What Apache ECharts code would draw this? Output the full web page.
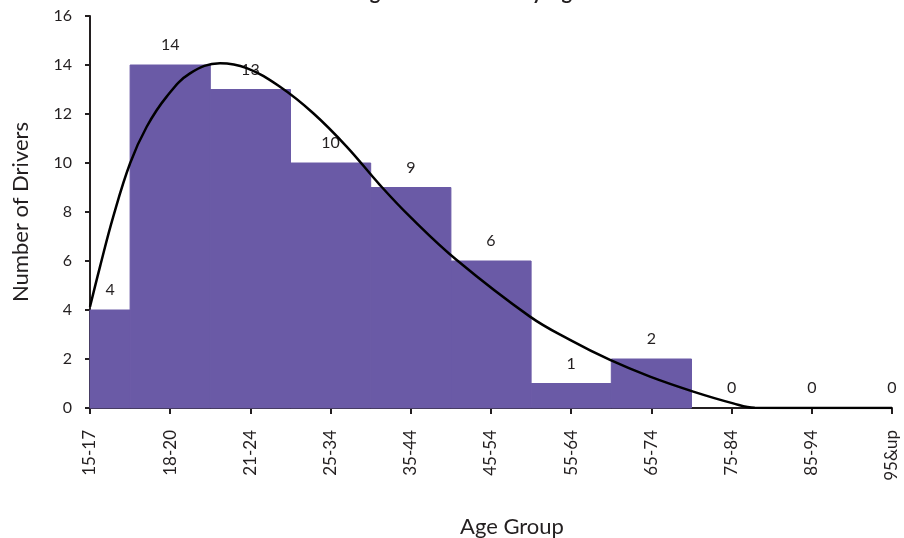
<!DOCTYPE html>
<html>
<head>
<meta charset="utf-8">
<script src="https://cdn.jsdelivr.net/npm/echarts@6/dist/echarts.min.js"></script>
<style>html,body{margin:0;padding:0;background:#fff}#c{width:904px;height:538px}</style>
</head>
<body>
<div id="c"></div>
<script>
const categories = ['15-17','18-20','21-24','25-34','35-44','45-54','55-64','65-74','75-84','85-94','95&up'];
const drivers = [4,14,13,10,9,6,1,2,0,0,0];
const curveX = [0,0.125,0.29,0.5,0.707,0.956,1.247,1.621,1.954,2.369,2.784,3.2,3.616,3.99,4.572,5.486,5.985,6.484,6.983,7.522,8.02,8.29,9,10];
const curveY = [4.13,5.77,7.81,9.99,11.48,12.71,13.66,14.07,13.87,13.11,12.03,10.67,9.10,7.81,6.04,3.73,2.78,1.96,1.28,0.67,0.19,0.01,0,0];
const yTicks = [0,2,4,6,8,10,12,14,16];

const FONT = 'Lato';
const INK = '#231f20';
const BAR = '#6a5aa6';
const chart = echarts.init(document.getElementById('c'));
chart.setOption({
  animation: false,
  title: {
    text: 'Young Driver Crashes by Age',
    left: 320, top: -22,
    textStyle: {fontFamily: FONT, fontSize: 20, fontWeight: 'bold', color: INK}
  },
  grid: {left: 90, right: 12, top: 16, bottom: 130, containLabel: false},
  xAxis: [{
    type: 'category',
    data: categories,
    boundaryGap: false,
    axisLine: {lineStyle: {color: INK, width: 2}},
    axisTick: {show: true, interval: 0, length: 6, lineStyle: {color: INK, width: 2}},
    axisLabel: {interval: 0, rotate: 90, margin: 22, fontFamily: FONT, fontSize: 17, color: INK},
    splitLine: {show: false}
  }, {
    type: 'value', min: 0, max: 10, show: false
  }],
  yAxis: {
    type: 'value', min: 0, max: 16, interval: 2,
    name: 'Number of Drivers', nameLocation: 'middle', nameGap: 58,
    nameTextStyle: {fontFamily: FONT, fontSize: 22, color: INK},
    axisLine: {show: true, lineStyle: {color: INK, width: 2}},
    axisTick: {show: true, length: 5, lineStyle: {color: INK, width: 2}},
    axisLabel: {margin: 18, fontFamily: FONT, fontSize: 16, color: INK,
      formatter: v => yTicks.includes(v) ? String(v) : ''},
    splitLine: {show: false}
  },
  graphic: [{
    type: 'text', left: 460, top: 516,
    style: {text: 'Age Group', font: '22px ' + FONT, fill: INK}
  }],
  series: [{
    type: 'custom',
    data: drivers.map((v, i) => [i, v]),
    encode: {x: 0, y: 1},
    renderItem: function (params, api) {
      const i = api.value(0), v = api.value(1);
      const top = api.coord([i, v]);
      const base = api.coord([i, 0]);
      const w = api.size([1, 0])[0];
      const rect = echarts.graphic.clipRectByRect(
        {x: top[0] - w / 2, y: top[1], width: w, height: base[1] - top[1]},
        params.coordSys
      );
      const children = [];
      let cx = top[0];
      if (rect && rect.height > 0) {
        children.push({
          type: 'rect',
          shape: rect,
          style: {fill: BAR, stroke: BAR, lineWidth: 1}
        });
        cx = rect.x + rect.width / 2;
      }
      children.push({
        type: 'text',
        x: cx, y: top[1] - 12,
        style: {text: String(v), font: '16px ' + FONT, fill: INK, align: 'center', verticalAlign: 'bottom'}
      });
      return {type: 'group', children: children};
    },
    z: 2
  }, {
    type: 'line',
    xAxisIndex: 1,
    data: curveX.map((x, i) => [x, curveY[i]]),
    smooth: 0.4,
    symbol: 'none',
    lineStyle: {color: '#000', width: 2.5},
    z: 5
  }]
});
</script>
</body>
</html>
